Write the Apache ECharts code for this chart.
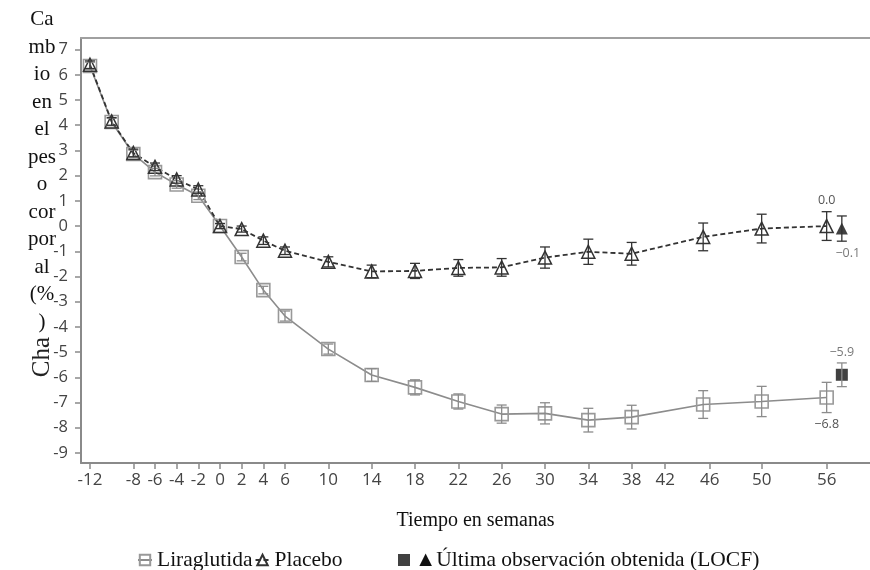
<!DOCTYPE html>
<html>
<head>
<meta charset="utf-8">
<script src="https://cdn.jsdelivr.net/npm/echarts@6/dist/echarts.min.js"></script>
<style>
html,body{margin:0;padding:0;background:#fff;}
#chart{width:870px;height:570px;}
</style>
</head>
<body>
<div id="chart"></div>
<script>
// ---- data ----
const weeks      = [-12,-10,-8,-6,-4,-2,0,2,4,6,10,14,18,22,26,30,34,38,44.6,50,56];
const lira       = [6.35,4.13,2.86,2.14,1.65,1.2,0,-1.23,-2.54,-3.57,-4.88,-5.91,-6.4,-6.96,-7.46,-7.43,-7.7,-7.58,-7.08,-6.96,-6.8];
const liraErr    = [0.15,0.15,0.15,0.15,0.15,0.15,0.1,0.15,0.15,0.2,0.2,0.25,0.3,0.3,0.36,0.42,0.47,0.47,0.55,0.6,0.6];
const placebo    = [6.4,4.15,2.9,2.35,1.85,1.45,0,-0.12,-0.58,-0.98,-1.42,-1.8,-1.78,-1.66,-1.64,-1.25,-1.02,-1.1,-0.43,-0.1,0.0];
const placeboErr = [0.15,0.15,0.15,0.15,0.15,0.15,0.1,0.12,0.15,0.15,0.2,0.25,0.3,0.33,0.35,0.42,0.5,0.45,0.55,0.57,0.57];
const locfWeek       = 57.4;
const locfLira       = -5.9;
const locfLiraErr    = 0.47;
const locfPlacebo    = -0.1;
const locfPlaceboErr = 0.5;
const xTickPos    = [-12,-8,-6,-4,-2,0,2,4,6,10,14,18,22,26,30,34,38,41.1,45.2,50,56];
const xTickLabels = ['-12','-8','-6','-4','-2','0','2','4','6','10','14','18','22','26','30','34','38','42','46','50','56'];
const yTicks      = [-9,-8,-7,-6,-5,-4,-3,-2,-1,0,1,2,3,4,5,6,7];
const seriesNames = ['Liraglutida','Placebo','Última observación obtenida (LOCF)'];
const yTitleLines = ['Ca','mb','io','en','el','pes','o','cor','por','al','(%',')'];

const fmt = v => (v < 0 ? '\u2212' + Math.abs(v).toFixed(1) : v.toFixed(1));
const annot = {fontFamily:'Open Sans', fontSize:12.5, color:'#555'};
const last = weeks.length - 1;

function errData(xs, ys, es){ return xs.map((x,i)=>[x, ys[i]-es[i], ys[i]+es[i]]); }
function errRender(color){
  return function(params, api){
    const x = api.value(0);
    const lo = api.coord([x, api.value(1)]);
    const hi = api.coord([x, api.value(2)]);
    const w = 5;
    const st = {stroke: color, lineWidth: 1.3};
    return {type:'group', children:[
      {type:'line', shape:{x1:lo[0],y1:lo[1],x2:hi[0],y2:hi[1]}, style:st},
      {type:'line', shape:{x1:lo[0]-w,y1:lo[1],x2:lo[0]+w,y2:lo[1]}, style:st},
      {type:'line', shape:{x1:hi[0]-w,y1:hi[1],x2:hi[0]+w,y2:hi[1]}, style:st}
    ]};
  };
}

const liraData = weeks.map((w,i)=>{
  const item = {value:[w, lira[i]]};
  if (i === last) item.label = {show:true, position:'bottom', distance:13, formatter: fmt(lira[i]), ...annot};
  return item;
});
const placeboData = weeks.map((w,i)=>{
  const item = {value:[w, placebo[i]]};
  if (i === last) item.label = {show:true, position:'top', distance:12, formatter: fmt(placebo[i]), ...annot};
  return item;
});

const chart = echarts.init(document.getElementById('chart'), null, {renderer:'canvas'});
chart.setOption({
  animation:false,
  backgroundColor:'#fff',
  grid:{left:81, right:0, top:38, bottom:107, containLabel:false},
  xAxis:[{
    type:'value', min:-12.83, max:60,
    name:'Tiempo en semanas', nameLocation:'middle', nameGap:48,
    nameTextStyle:{fontFamily:'Liberation Serif', fontSize:20, color:'#111'},
    axisLine:{show:true, onZero:false, lineStyle:{color:'#8a8a8a', width:2}},
    axisTick:{show:true, customValues:xTickPos, length:6, lineStyle:{color:'#8a8a8a', width:1.5}},
    axisLabel:{customValues:xTickPos, margin:9, fontFamily:'Open Sans', fontSize:17, color:'#444',
      formatter: v => { const k = xTickPos.findIndex(p=>Math.abs(p-v)<1e-6); return k>=0 ? xTickLabels[k] : ''; }},
    splitLine:{show:false}
  },{
    type:'value', position:'top', min:-12.83, max:60,
    axisLine:{show:true, onZero:false, lineStyle:{color:'#a0a0a0', width:2}},
    axisTick:{show:false}, axisLabel:{show:false}, splitLine:{show:false}
  }],
  yAxis:{
    type:'value', min:-9.4, max:7.46,
    axisLine:{show:true, onZero:false, lineStyle:{color:'#8a8a8a', width:2}},
    axisTick:{show:true, customValues:yTicks, length:6, lineStyle:{color:'#8a8a8a', width:1.5}},
    axisLabel:{customValues:yTicks, margin:13, fontFamily:'Open Sans', fontSize:16.5, color:'#444'},
    splitLine:{show:false}
  },
  legend:[{
    data:[seriesNames[0], seriesNames[1]],
    left:132, top:544, itemWidth:14, itemHeight:13, itemGap:2,
    textStyle:{fontFamily:'Liberation Serif', fontSize:21.5, color:'#111'}
  },{
    data:[seriesNames[2]],
    left:393, top:544, itemWidth:12, itemHeight:12, icon:'rect',
    textStyle:{fontFamily:'Liberation Serif', fontSize:21.5, color:'#111'},
    formatter: name => '\u25B2' + name
  }],
  graphic:[
    {type:'text', style:{x:42, y:6, text:yTitleLines.join('\n'), font:'21px "Liberation Serif"', fill:'#111', align:'center', lineHeight:27.5}},
    {type:'text', x:42, y:357, rotation:Math.PI/2, style:{text:'Cha', font:'25px "Liberation Serif"', fill:'#222', align:'center', verticalAlign:'middle'}}
  ],
  series:[
    {name:seriesNames[0], type:'line', data:liraData, symbol:'rect', symbolSize:13, z:3,
     lineStyle:{color:'#8c8c8c', width:1.6}, itemStyle:{color:'rgba(255,255,255,0)', borderColor:'#999', borderWidth:1.6}},
    {name:seriesNames[1], type:'line', data:placeboData, symbol:'triangle', symbolSize:13, z:3,
     lineStyle:{color:'#333', width:1.8, type:[5,3]}, itemStyle:{color:'rgba(255,255,255,0)', borderColor:'#333', borderWidth:1.5}},
    {name:seriesNames[2], type:'scatter', symbol:'rect', symbolSize:12, z:4, itemStyle:{color:'#111'},
     data:[{value:[locfWeek, locfLira], label:{show:true, position:'top', distance:10, formatter:fmt(locfLira), ...annot}}]},
    {name:'LOCF Placebo', type:'scatter', symbol:'triangle', symbolSize:12, z:4, itemStyle:{color:'#111'},
     data:[{value:[locfWeek, locfPlacebo], label:{show:true, position:'bottom', distance:12, offset:[6,0], formatter:fmt(locfPlacebo), ...annot}}]},
    {name:'errLira', type:'custom', z:5, renderItem:errRender('#8c8c8c'),
     data:errData(weeks.concat([locfWeek]), lira.concat([locfLira]), liraErr.concat([locfLiraErr]))},
    {name:'errPlacebo', type:'custom', z:5, renderItem:errRender('#333'),
     data:errData(weeks.concat([locfWeek]), placebo.concat([locfPlacebo]), placeboErr.concat([locfPlaceboErr]))}
  ]
});
</script>
</body>
</html>
